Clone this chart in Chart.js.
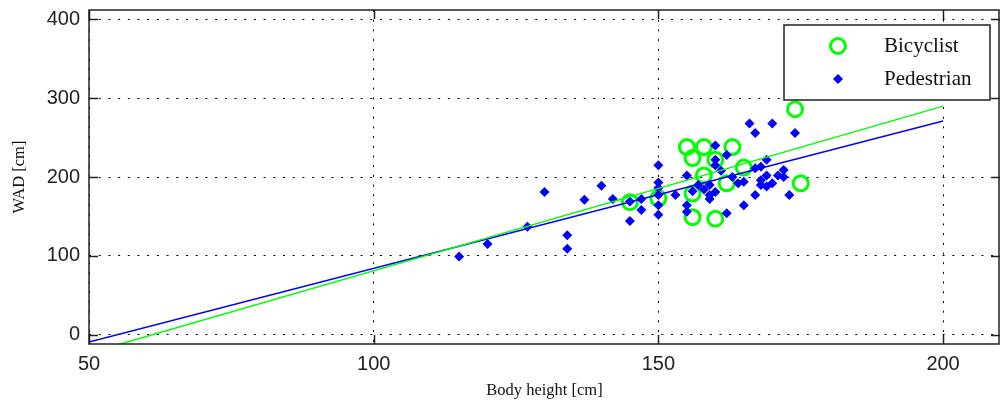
<!DOCTYPE html>
<html>
<head>
<meta charset="utf-8">
<script src="https://cdn.jsdelivr.net/npm/chart.js@4.4.1/dist/chart.umd.min.js"></script>
<style>
  html, body { margin: 0; padding: 0; background: #fff; }
  #grafico-wrap { width: 1000px; height: 407px; }
</style>
</head>
<body>
<div id="grafico-wrap"><canvas id="grafico"></canvas></div>
<script>
// ejes
const xTicks = [50, 100, 150, 200];
const yTicks = [0, 100, 200, 300, 400];

// ciclistas (altura, WAD)
const bicyclistHeight = [174, 155, 158, 163, 156, 160, 158, 162, 175, 150, 145, 156, 156, 160, 165];
const bicyclistWad    = [286, 238, 238, 238, 224, 222, 202, 192, 192, 173, 168, 179, 149, 147, 212];

// peatones (altura, WAD)
const pedestrianHeight = [115, 120, 127, 130, 134, 134, 137, 140, 142, 145, 145, 147, 147, 150, 150, 150, 150, 150, 150,
    153, 155, 155, 155, 157, 159, 159, 160, 160, 160, 160, 162, 162, 159, 165, 165, 166, 167, 167, 168, 168, 169, 169,
    170, 170, 168, 169, 171, 167, 172, 172, 173, 174, 158, 163, 164, 156, 161];
const pedestrianWad = [99, 115, 137, 181, 126, 109, 171, 189, 172, 169, 144, 172, 158, 215, 193, 186, 177, 164, 152,
    177, 202, 164, 156, 190, 177, 172, 240, 222, 215, 181, 228, 154, 190, 194, 164, 268, 256, 211, 213, 196, 222, 202,
    268, 192, 190, 188, 202, 177, 209, 200, 177, 256, 184, 200, 192, 182, 208];

// rectas de ajuste (extremos)
const fitHeight = [50, 200];
const bicyclistFit = [-23.5, 290];
const pedestrianFit = [-9.4, 271];

const pares = (xs, ys) => xs.map((x, i) => ({ x: x, y: ys[i] }));

const VERDE = '#00ff00';
const AZUL = '#0000ff';

// marco y ticks hacia adentro (estilo MATLAB)
const marco = {
    id: 'marco',
    afterDatasetsDraw(chart) {
        const { ctx, chartArea: { left, right, top, bottom }, scales: { x, y } } = chart;
        ctx.save();
        ctx.strokeStyle = '#222';
        ctx.lineWidth = 1.5;
        ctx.strokeRect(left, top, right - left - 1, bottom - top);
        ctx.beginPath();
        xTicks.forEach(v => {
            const px = Math.round(x.getPixelForValue(v)) + 0.5;
            ctx.moveTo(px, bottom); ctx.lineTo(px, bottom - 9);
            ctx.moveTo(px, top); ctx.lineTo(px, top + 9);
        });
        yTicks.forEach(v => {
            const py = Math.round(y.getPixelForValue(v)) + 0.5;
            ctx.moveTo(left, py); ctx.lineTo(left + 9, py);
            ctx.moveTo(right, py); ctx.lineTo(right - 9, py);
        });
        ctx.stroke();
        ctx.restore();
    }
};

const leyenda = {
    id: 'leyenda',
    afterDraw(chart) {
        const { ctx, chartArea } = chart;
        const w = 206, h = 75;
        const x0 = chartArea.right - 10 - w;
        const y0 = chartArea.top + 15;
        ctx.save();
        ctx.fillStyle = '#fff';
        ctx.fillRect(x0, y0, w, h);
        ctx.strokeStyle = '#222';
        ctx.lineWidth = 1.5;
        ctx.strokeRect(x0, y0, w, h);

        const items = chart.data.datasets.filter(d => d.enLeyenda).reverse();
        items.forEach((d, i) => {
            const cy = y0 + 21 + i * 33;
            const cx = x0 + 54;
            ctx.beginPath();
            if (d.pointStyle === 'circle') {
                ctx.arc(cx, cy, d.pointRadius, 0, Math.PI * 2);
                ctx.strokeStyle = d.borderColor;
                ctx.lineWidth = d.borderWidth;
                ctx.stroke();
            } else {
                const r = d.pointRadius;
                ctx.moveTo(cx, cy - r);
                ctx.lineTo(cx + r, cy);
                ctx.lineTo(cx, cy + r);
                ctx.lineTo(cx - r, cy);
                ctx.closePath();
                ctx.fillStyle = d.backgroundColor;
                ctx.fill();
            }
            ctx.fillStyle = '#111';
            ctx.font = '21px "Liberation Serif"';
            ctx.textBaseline = 'middle';
            ctx.textAlign = 'left';
            ctx.fillText(d.label, x0 + 100, cy);
        });
        ctx.restore();
    }
};

new Chart(document.getElementById('grafico').getContext('2d'), {
    type: 'scatter',
    plugins: [marco, leyenda],
    data: {
        datasets: [
            {
                label: 'ajuste ciclistas',
                data: pares(fitHeight, bicyclistFit),
                showLine: true,
                borderColor: VERDE,
                borderWidth: 1.5,
                pointRadius: 0
            },
            {
                label: 'ajuste peatones',
                data: pares(fitHeight, pedestrianFit),
                showLine: true,
                borderColor: AZUL,
                borderWidth: 1.5,
                pointRadius: 0
            },
            {
                label: 'Pedestrian',
                enLeyenda: true,
                data: pares(pedestrianHeight, pedestrianWad),
                pointStyle: 'rectRot',
                pointRadius: 5,
                backgroundColor: AZUL,
                borderColor: AZUL,
                borderWidth: 0
            },
            {
                label: 'Bicyclist',
                enLeyenda: true,
                data: pares(bicyclistHeight, bicyclistWad),
                pointStyle: 'circle',
                pointRadius: 7.5,
                backgroundColor: 'rgba(0,0,0,0)',
                borderColor: VERDE,
                borderWidth: 3
            }
        ]
    },
    options: {
        animation: false,
        responsive: true,
        maintainAspectRatio: false,
        layout: { autoPadding: false, padding: { top: 10, right: 0, left: 0, bottom: 0 } },
        plugins: {
            legend: { display: false },
            tooltip: { enabled: false }
        },
        scales: {
            x: {
                type: 'linear',
                min: 50,
                max: 210,
                afterBuildTicks: s => { s.ticks = xTicks.map(v => ({ value: v })); },
                afterFit: s => { s.height = 63; s.paddingLeft = 0; s.paddingRight = 0; },
                ticks: {
                    color: '#222',
                    padding: 8,
                    font: { family: '"Liberation Sans"', size: 20 }
                },
                grid: { color: '#000', lineWidth: 1, drawTicks: false },
                border: { display: false, dash: [2, 7.7] },
                title: {
                    display: true,
                    text: 'Body height [cm]',
                    color: '#111',
                    font: { family: '"Liberation Serif"', size: 16.5 },
                    padding: { top: 0, bottom: 6 }
                }
            },
            y: {
                type: 'linear',
                min: -12,
                max: 412,
                afterBuildTicks: s => { s.ticks = yTicks.map(v => ({ value: v })); },
                afterFit: s => { s.width = 89; s.paddingTop = 0; s.paddingBottom = 0; },
                ticks: {
                    color: '#222',
                    padding: 9,
                    font: { family: '"Liberation Sans"', size: 20 }
                },
                grid: { color: '#000', lineWidth: 1, drawTicks: false },
                border: { display: false, dash: [2, 7.7] },
                title: {
                    display: true,
                    text: 'WAD [cm]',
                    color: '#111',
                    font: { family: '"Liberation Serif"', size: 16.5 },
                    padding: { top: 10, bottom: 0 }
                }
            }
        }
    }
});
</script>
</body>
</html>
